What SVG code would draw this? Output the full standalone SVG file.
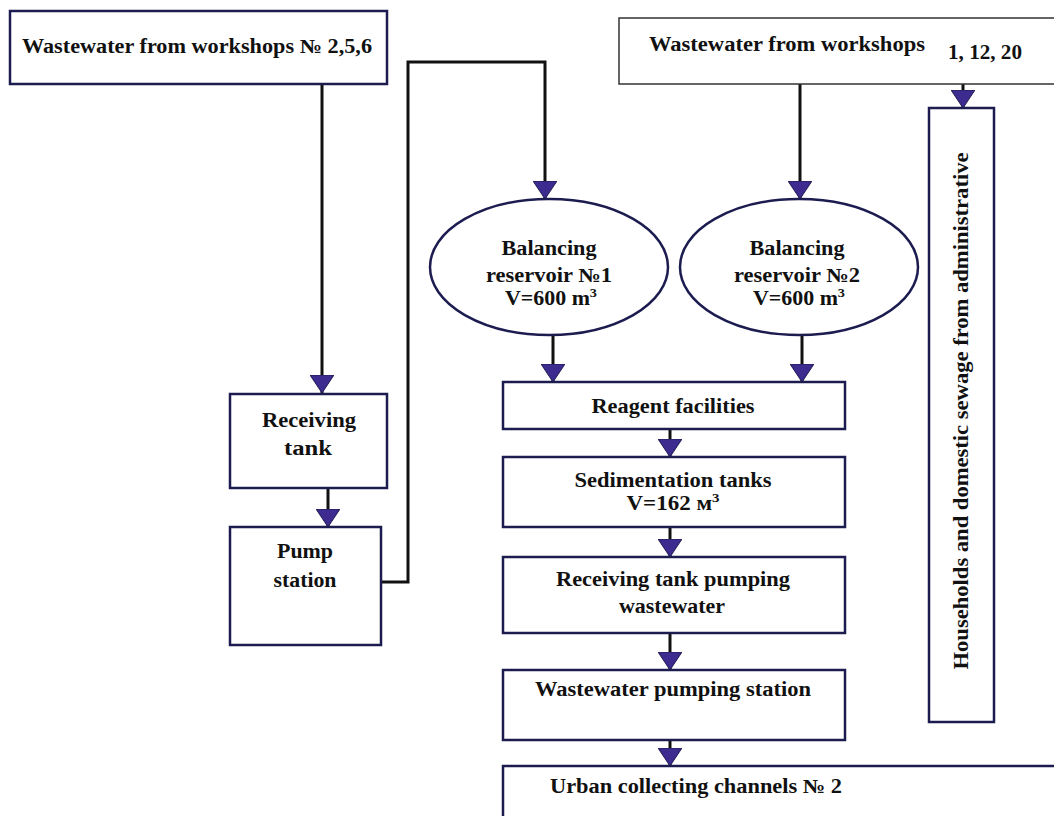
<svg xmlns="http://www.w3.org/2000/svg" width="1054" height="816" viewBox="0 0 1054 816">
<style>
.box{fill:#fff;stroke:#1c1c50;stroke-width:2.5}
.box2{fill:#fff;stroke:#333;stroke-width:1.5}
.t{font-family:"Liberation Serif","Times New Roman",serif;font-weight:bold;font-size:20px;fill:#111;text-anchor:middle}
.c{fill:none;stroke:#111;stroke-width:3}
</style>
<defs>
<marker id="ar" markerUnits="userSpaceOnUse" viewBox="0 0 18 24" refX="18" refY="12" markerWidth="18" markerHeight="24" orient="auto">
<path d="M0,0 L18,12 L0,24 z" fill="#3d2b8f" stroke="#1c1c50" stroke-width="1"/>
</marker>
</defs>
<rect width="1054" height="816" fill="#fff"/>
<g id="connectors">
<path class="c" d="M322,84 V393" marker-end="url(#ar)"/>
<path class="c" d="M328,488 V527" marker-end="url(#ar)"/>
<path class="c" d="M381,582 H408 V62 H545 V199" marker-end="url(#ar)"/>
<path class="c" d="M800,84 V199" marker-end="url(#ar)"/>
<path class="c" d="M963,84 V108" marker-end="url(#ar)"/>
<path class="c" d="M553,336 V382" marker-end="url(#ar)"/>
<path class="c" d="M802,336 V382" marker-end="url(#ar)"/>
<path class="c" d="M670,429 V457" marker-end="url(#ar)"/>
<path class="c" d="M670,527 V557" marker-end="url(#ar)"/>
<path class="c" d="M670,633 V670" marker-end="url(#ar)"/>
<path class="c" d="M670,740 V766" marker-end="url(#ar)"/>
</g>
<g id="n1"><rect class="box" x="10" y="11" width="377" height="73"/>
<text class="t" x="197" y="53" textLength="350" lengthAdjust="spacingAndGlyphs">Wastewater from workshops № 2,5,6</text></g>
<g id="n2"><rect class="box2" x="619" y="18" width="440" height="66"/>
<text class="t" x="787" y="51" textLength="276" lengthAdjust="spacingAndGlyphs">Wastewater from workshops</text>
<text class="t" x="985" y="59" font-size="18" textLength="74" lengthAdjust="spacingAndGlyphs">1, 12, 20</text></g>
<g id="n3"><ellipse class="box" cx="549" cy="267" rx="119" ry="68"/>
<text class="t" x="549" y="255" textLength="95" lengthAdjust="spacingAndGlyphs">Balancing</text>
<text class="t" x="549" y="282" textLength="126" lengthAdjust="spacingAndGlyphs">reservoir №1</text>
<text class="t" x="551" y="305" textLength="92" lengthAdjust="spacingAndGlyphs">V=600 m<tspan font-size="13" dy="-8">3</tspan></text></g>
<g id="n4"><ellipse class="box" cx="799" cy="267" rx="119" ry="68"/>
<text class="t" x="797" y="255" textLength="95" lengthAdjust="spacingAndGlyphs">Balancing</text>
<text class="t" x="797" y="282" textLength="126" lengthAdjust="spacingAndGlyphs">reservoir №2</text>
<text class="t" x="799" y="305" textLength="92" lengthAdjust="spacingAndGlyphs">V=600 m<tspan font-size="13" dy="-8">3</tspan></text></g>
<g id="n5"><rect class="box" x="230" y="394" width="157" height="94"/>
<text class="t" x="309" y="427" textLength="94" lengthAdjust="spacingAndGlyphs">Receiving</text>
<text class="t" x="308" y="455" textLength="48" lengthAdjust="spacingAndGlyphs">tank</text></g>
<g id="n6"><rect class="box" x="230" y="527" width="151" height="118"/>
<text class="t" x="305" y="558" textLength="56" lengthAdjust="spacingAndGlyphs">Pump</text>
<text class="t" x="305" y="587" textLength="63" lengthAdjust="spacingAndGlyphs">station</text></g>
<g id="n7"><rect class="box" x="503" y="382" width="342" height="47"/>
<text class="t" x="673" y="413" textLength="163" lengthAdjust="spacingAndGlyphs">Reagent facilities</text></g>
<g id="n8"><rect class="box" x="503" y="457" width="342" height="70"/>
<text class="t" x="673" y="487" textLength="197" lengthAdjust="spacingAndGlyphs">Sedimentation tanks</text>
<text class="t" x="673" y="510" textLength="93" lengthAdjust="spacingAndGlyphs">V=162 м<tspan font-size="13" dy="-8">3</tspan></text></g>
<g id="n9"><rect class="box" x="503" y="557" width="342" height="76"/>
<text class="t" x="673" y="586" textLength="234" lengthAdjust="spacingAndGlyphs">Receiving tank pumping</text>
<text class="t" x="672" y="613" textLength="106" lengthAdjust="spacingAndGlyphs">wastewater</text></g>
<g id="n10"><rect class="box" x="503" y="670" width="342" height="70"/>
<text class="t" x="673" y="696" textLength="276" lengthAdjust="spacingAndGlyphs">Wastewater pumping station</text></g>
<g id="n11"><rect class="box" x="503" y="766" width="560" height="60"/>
<text class="t" x="696" y="793" textLength="292" lengthAdjust="spacingAndGlyphs">Urban collecting channels № 2</text></g>
<g id="n12"><rect class="box" x="929" y="108" width="65" height="614"/>
<text class="t" transform="translate(968,411) rotate(-90)" textLength="517" lengthAdjust="spacingAndGlyphs">Households and domestic sewage from administrative</text></g>
</svg>
